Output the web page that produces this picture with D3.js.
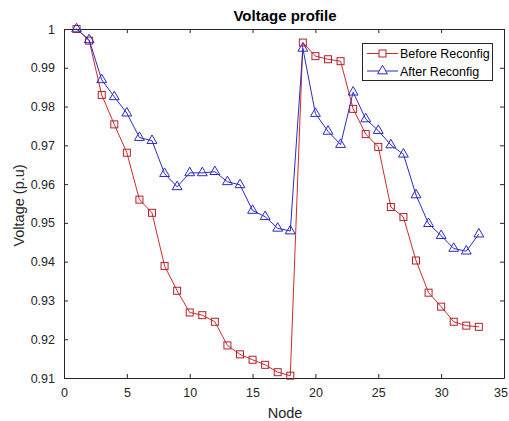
<!DOCTYPE html>
<html>
<head>
<meta charset="utf-8">
<script src="https://cdn.jsdelivr.net/npm/d3@7"></script>
<style>
  body { margin: 0; background: #fff; }
  svg { display: block; font-family: "Liberation Sans", Arial, sans-serif; }
</style>
</head>
<body>
<svg id="chart" width="509" height="421"></svg>
<script>
const nodes = d3.range(1, 34);
const beforeReconfig = [1.0000, 0.9970, 0.9830, 0.9754, 0.9681, 0.9560, 0.9526, 0.9389, 0.9325, 0.9269,
  0.9262, 0.9245, 0.9184, 0.9161, 0.9147, 0.9134, 0.9115, 0.9106, 0.9965, 0.9930,
  0.9922, 0.9917, 0.9794, 0.9729, 0.9696, 0.9541, 0.9515, 0.9403, 0.9320, 0.9284,
  0.9245, 0.9235, 0.9232];
const afterReconfig = [1.0000, 0.9972, 0.9869, 0.9825, 0.9783, 0.9720, 0.9712, 0.9627, 0.9593, 0.9629,
  0.9629, 0.9632, 0.9606, 0.9598, 0.9532, 0.9516, 0.9486, 0.9479, 0.9950, 0.9782,
  0.9736, 0.9702, 0.9837, 0.9768, 0.9738, 0.9701, 0.9677, 0.9572, 0.9498, 0.9467,
  0.9434, 0.9427, 0.9471];
const xTicks = [0, 5, 10, 15, 20, 25, 30, 35];
const yTicks = [0.91, 0.92, 0.93, 0.94, 0.95, 0.96, 0.97, 0.98, 0.99, 1];
const seriesNames = ["Before Reconfig", "After Reconfig"];

const svg = d3.select("#chart");
const L = 64, R = 504, T = 29, B = 378;
const x = d3.scaleLinear().domain([0, 35]).range([L, R]);
const y = d3.scaleLinear().domain([0.91, 1]).range([B, T]);
const textCol = "#262626";
const axisCol = "#262626";
const redCol = "#d42a2a";
const redEdge = "#b0222a";
const blueCol = "#2a2ac8";

// title
svg.append("text").attr("x", (L + R) / 2 + 1).attr("y", 21).attr("text-anchor", "middle")
  .attr("font-size", 15).attr("font-weight", "bold").attr("fill", "#000").text("Voltage profile");

// axes
const xAxisB = d3.axisBottom(x).tickValues(xTicks).tickSizeInner(-4).tickSizeOuter(0).tickPadding(10).tickFormat(d3.format("d"));
const xAxisT = d3.axisTop(x).tickValues(xTicks).tickSizeInner(-4).tickSizeOuter(0).tickFormat("");
const yAxisL = d3.axisLeft(y).tickValues(yTicks).tickSizeInner(-4).tickSizeOuter(0).tickPadding(9).tickFormat(d => d === 1 ? "1" : d3.format(".2f")(d));
const yAxisR = d3.axisRight(y).tickValues(yTicks).tickSizeInner(-4).tickSizeOuter(0).tickFormat("");

function style(g) {
  g.selectAll("path.domain").attr("stroke", axisCol).attr("stroke-width", 1);
  g.selectAll(".tick line").attr("stroke", axisCol);
  g.selectAll(".tick text").attr("fill", textCol).attr("font-size", 12.5)
    .attr("font-family", "'Liberation Sans', Arial, sans-serif");
}
const gxb = svg.append("g").attr("transform", `translate(0,${B})`).call(xAxisB).call(style);
// keep the last tick label inside the page
gxb.selectAll(".tick text").filter(d => d === 35).attr("text-anchor", "end").attr("dx", 3.5);
svg.append("g").attr("transform", `translate(0,${T})`).call(xAxisT).call(style);
svg.append("g").attr("transform", `translate(${L},0)`).call(yAxisL).call(style);
svg.append("g").attr("transform", `translate(${R},0)`).call(yAxisR).call(style);

// axis labels
svg.append("text").attr("x", (L + R) / 2 + 1).attr("y", 418).attr("text-anchor", "middle")
  .attr("font-size", 14.5).attr("fill", textCol).text("Node");
svg.append("text").attr("transform", `translate(24,${(T + B) / 2 + 2}) rotate(-90)`).attr("text-anchor", "middle")
  .attr("font-size", 14.5).attr("fill", textCol).text("Voltage (p.u)");

const line = d3.line().x((d, i) => x(nodes[i])).y(d => y(d));

// Before
svg.append("path").datum(beforeReconfig).attr("d", line).attr("fill", "none").attr("stroke", redCol).attr("stroke-width", 1);
// After
svg.append("path").datum(afterReconfig).attr("d", line).attr("fill", "none").attr("stroke", blueCol).attr("stroke-width", 1);

const sq = 7;
svg.append("g").selectAll("rect").data(beforeReconfig).join("rect")
  .attr("x", (d, i) => x(nodes[i]) - sq / 2).attr("y", d => y(d) - sq / 2)
  .attr("width", sq).attr("height", sq).attr("fill", "none").attr("stroke", redEdge).attr("stroke-width", 1);

const tri = d3.symbol().type(d3.symbolTriangle).size(42);
svg.append("g").selectAll("path").data(afterReconfig).join("path")
  .attr("d", tri).attr("transform", (d, i) => `translate(${x(nodes[i])},${y(d)})`)
  .attr("fill", "none").attr("stroke", blueCol).attr("stroke-width", 1);

// legend
const lg = svg.append("g");
lg.append("rect").attr("x", 362.5).attr("y", 43.5).attr("width", 130).attr("height", 37)
  .attr("fill", "#fff").attr("stroke", axisCol).attr("stroke-width", 1);
const items = [
  { name: seriesNames[0], col: redCol, type: "sq" },
  { name: seriesNames[1], col: blueCol, type: "tri" }
];
items.forEach((it, i) => {
  const cy = 53.5 + i * 17.5;
  lg.append("line").attr("x1", 367).attr("x2", 398).attr("y1", cy).attr("y2", cy).attr("stroke", it.col);
  if (it.type === "sq") {
    lg.append("rect").attr("x", 382.5 - sq / 2).attr("y", cy - sq / 2).attr("width", sq).attr("height", sq)
      .attr("fill", "#fff").attr("stroke", redEdge);
  } else {
    lg.append("path").attr("d", tri).attr("transform", `translate(382.5,${cy})`).attr("fill", "#fff").attr("stroke", it.col);
  }
  lg.append("text").attr("x", 400).attr("y", cy + 4.5).attr("font-size", 12.5).attr("fill", "#000").text(it.name);
});
</script>
</body>
</html>
